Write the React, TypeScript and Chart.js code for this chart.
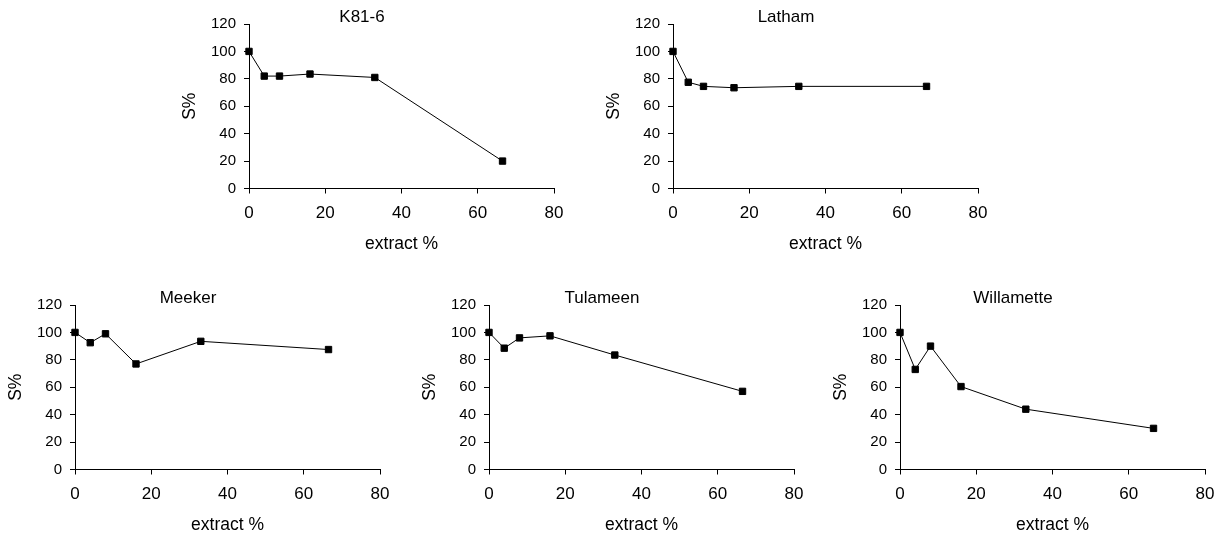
import React, { useEffect, useRef } from "react";
import { Chart, registerables } from "chart.js";

Chart.register(...registerables);

// Data
const extractPercent = [0, 4, 8, 16, 33, 66.5];
const k816 = [100, 82, 82, 83.5, 81, 20];
const latham = [100, 77.5, 74.5, 73.5, 74.5, 74.5];
const meeker = [100, 92.5, 99, 77, 93.5, 87.5];
const tulameen = [100, 88.5, 96, 97.5, 83.5, 57];
const willamette = [100, 73, 90, 60.5, 44, 30];

const xTicksMin = 0;
const xTicksMax = 80;
const xTickStep = 20;
const yTicksMin = 0;
const yTicksMax = 120;
const yTickStep = 20;

const xAxisTitle = "extract %";
const yAxisTitle = "S%";

const FONT = "'Liberation Sans', Arial, Helvetica, sans-serif";

type Panel = { name: string; values: number[]; left: number; top: number };

const panels: Panel[] = [
  { name: "K81-6", values: k816, left: 170, top: 0 },
  { name: "Latham", values: latham, left: 594, top: 0 },
  { name: "Meeker", values: meeker, left: -4, top: 281 },
  { name: "Tulameen", values: tulameen, left: 410, top: 281 },
  { name: "Willamette", values: willamette, left: 821, top: 281 },
];

const CW = 400;
const CH = 256;

function SmallChart({ panel }: { panel: Panel }) {
  const ref = useRef<HTMLCanvasElement | null>(null);
  useEffect(() => {
    if (!ref.current) return;
    const data = extractPercent.map((x, i) => ({ x, y: panel.values[i] }));
    const chart = new Chart(ref.current, {
      type: "line",
      data: {
        datasets: [
          {
            data,
            borderColor: "#000",
            backgroundColor: "#000",
            borderWidth: 1,
            pointStyle: "rect",
            pointRadius: 4.5,
            pointBackgroundColor: "#000",
            pointBorderColor: "#000",
            pointBorderWidth: 1,
            tension: 0,
            clip: false,
          } as any,
        ],
      },
      options: {
        responsive: false,
        animation: false,
        devicePixelRatio: 1,
        layout: { padding: { left: 0, right: 16, top: 0, bottom: 0 } },
        plugins: {
          legend: { display: false },
          tooltip: { enabled: false },
          title: {
            display: true,
            text: panel.name,
            color: "#000",
            font: { family: FONT, size: 17, weight: "normal", lineHeight: 1 },
            padding: { top: 9, bottom: -2 },
          },
        },
        scales: {
          x: {
            type: "linear",
            min: xTicksMin,
            max: xTicksMax,
            ticks: {
              stepSize: xTickStep,
              color: "#000",
              font: { family: FONT, size: 17 },
              padding: 10,
            },
            grid: {
              drawOnChartArea: false,
              drawTicks: true,
              tickLength: 5,
              color: "#000",
            },
            border: { display: true, color: "#000", width: 1 },
            title: {
              display: true,
              text: xAxisTitle,
              color: "#000",
              font: { family: FONT, size: 17.5 },
              padding: { top: 0, bottom: 1 },
            },
            afterFit: (s: any) => {
              s.height = 67.5;
              s.paddingLeft = 0;
              s.paddingRight = 0;
            },
          },
          y: {
            type: "linear",
            min: yTicksMin,
            max: yTicksMax,
            ticks: {
              stepSize: yTickStep,
              color: "#000",
              font: { family: FONT, size: 15 },
              padding: 8,
            },
            grid: {
              drawOnChartArea: false,
              drawTicks: true,
              tickLength: 5,
              color: "#000",
            },
            border: { display: true, color: "#000", width: 1 },
            title: {
              display: true,
              text: yAxisTitle,
              color: "#000",
              font: { family: FONT, size: 17.5 },
              padding: { top: 9.5, bottom: 0 },
            },
            afterFit: (s: any) => {
              s.width = 79;
            },
          },
        },
      } as any,
    });
    return () => chart.destroy();
  }, [panel]);
  return (
    <canvas
      ref={ref}
      width={CW}
      height={CH}
      style={{ position: "absolute", left: panel.left, top: panel.top, width: CW, height: CH }}
    />
  );
}

export default function App() {
  return (
    <div
      style={{
        position: "absolute",
        left: 0,
        top: 0,
        width: 1225,
        height: 537,
        overflow: "hidden",
        background: "#fff",
      }}
    >
      {panels.map((p) => (
        <SmallChart key={p.name} panel={p} />
      ))}
    </div>
  );
}
